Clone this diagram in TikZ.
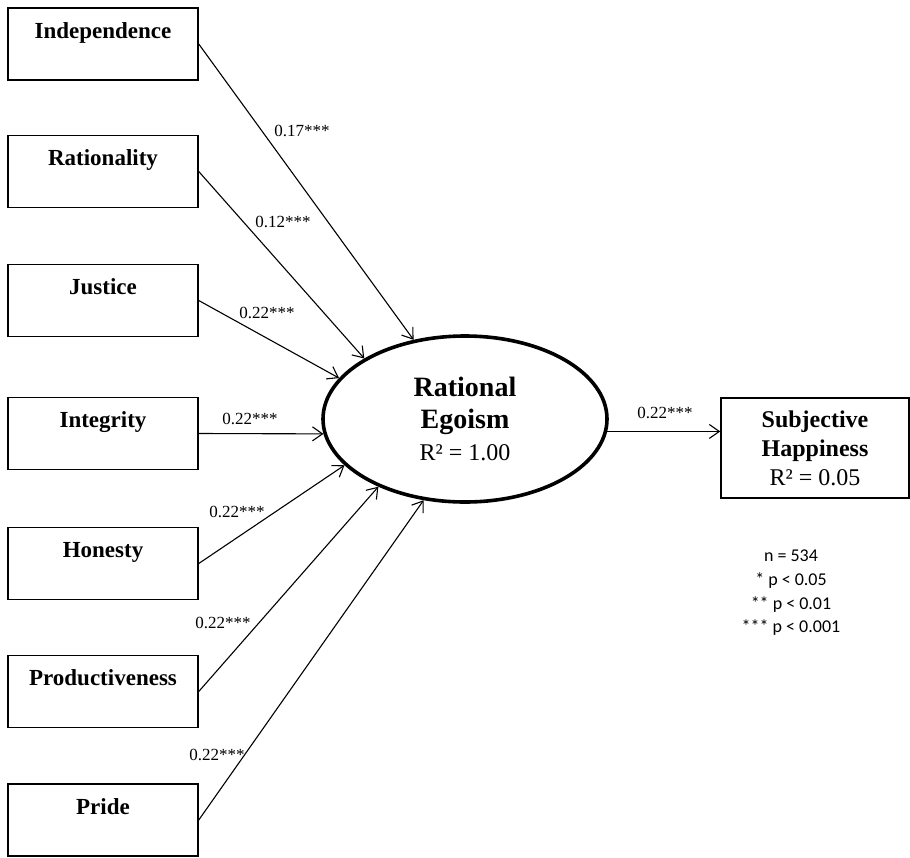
\documentclass[tikz,border=0pt]{standalone}
\usepackage{fontspec}
\setmainfont{Liberation Serif}
\newfontfamily\legendfont{Carlito}
\usetikzlibrary{arrows.meta}
\usetikzlibrary{shapes.geometric}

\tikzset{
  var/.style={draw, line width=0.75pt, minimum width=95pt, minimum height=36pt,
    inner sep=0pt, text height=15pt, text depth=21pt,
    font=\fontsize{11.5}{14}\selectfont\bfseries},
  lat/.style={draw, ellipse, line width=1.8pt, minimum width=142pt,
    minimum height=83pt, inner sep=0pt, align=center,
    font=\fontsize{14}{16}\selectfont},
  depbox/.style={draw, line width=0.75pt, minimum width=94pt, minimum height=50pt,
    inner sep=0pt, align=center, font=\fontsize{12}{14.5}\selectfont},
  arr/.style={-{Straight Barb[length=5pt,width=7pt]}, line width=0.55pt},
  coef/.style={font=\fontsize{8.5}{10}\selectfont, inner sep=0pt},
}

\begin{document}
\begin{tikzpicture}[x=0.5pt, y=-0.5pt]
  \useasboundingbox (0,0) rectangle (910,857);
  % predictors
  \node[var] (ind) at (103,44) {Independence};
  \node[var] (rat) at (103,171.5) {Rationality};
  \node[var] (jus) at (103,300.5) {Justice};
  \node[var] (int) at (103,433.5) {Integrity};
  \node[var] (hon) at (103,563.5) {Honesty};
  \node[var] (pro) at (103,691.5) {Productiveness};
  \node[var] (pri) at (103,820) {Pride};
  % latent + outcome
  \node[lat] (re) at (465,419) {\textbf{Rational}\\ \textbf{Egoism}\\
    {\fontsize{12}{15}\selectfont R² = 1.00}};
  \node[depbox] (sh) at (815,448) {\textbf{Subjective}\\ \textbf{Happiness}\\ R² = 0.05};
  \foreach \from/\ang/\w/\lx/\ly in {ind/123/0.17/302/131, rat/149/0.12/283/222,
      jus/162/0.22/267/313, int/186/0.22/250/419, hon/201/0.22/237/512,
      pro/218/0.22/223/623, pri/243/0.22/217/755}
   \draw[arr] (\from.east) -- (re.\ang) node[coef] (c\from) at (\lx,\ly) {\w***};
  \draw[arr] (re.355.5) -- (re.355.5 -| sh.west) node[coef] (csh) at (665,413) {0.22***};
  % legend
  \node[font=\legendfont\fontsize{9}{11.8}\selectfont, align=center] (key) at (791,593)
    {n = 534\\ * p < 0.05\\ ** p < 0.01\\ *** p < 0.001};
\end{tikzpicture}
\end{document}
